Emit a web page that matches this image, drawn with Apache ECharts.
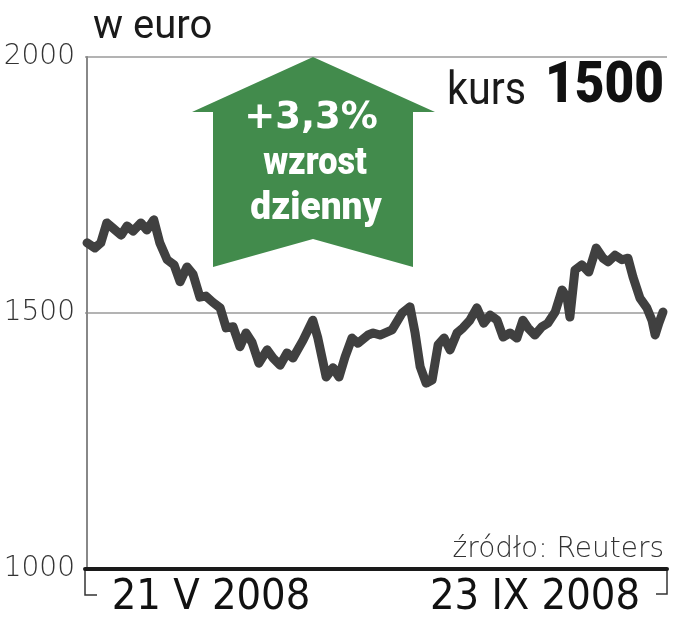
<!DOCTYPE html>
<html><head><meta charset="utf-8">
<script src="https://cdn.jsdelivr.net/npm/echarts@6/dist/echarts.min.js"></script>
<style>html,body{margin:0;padding:0;background:#fff}#c{width:677px;height:640px}</style>
</head><body><div id="c"></div>
<script>
// days since 21 V 2008
const days = [0,1.7,3.0,4.3,5.6,7.4,8.7,10.0,11.7,13.0,14.5,15.8,17.4,18.9,20.2,21.7,23.0,24.5,25.8,27.3,28.9,30.2,31.7,33.2,34.5,35.8,37.3,39.1,40.4,41.9,43.4,44.7,46.9,49.0,50.1,51.9,53.4,54.7,56.0,57.5,58.8,61.0,62.1,63.6,66.2,68.4,70.1,71.2,72.3,73.6,74.9,76.2,77.5,78.8,80.3,81.6,83.1,84.6,86.1,87.5,89.0,90.3,91.8,93.3,94.6,95.7,97.2,98.7,100.0,101.6,103.1,104.2,104.8,105.9,107.4,108.9,110.5,112.0,113.1,114.6,116.1,117.4,118.5,120.0,121.5,122.6,123.3,124.1,125.0];
// price in euro
const prices = [1637,1627,1637,1676,1666,1652,1670,1660,1676,1662,1682,1637,1604,1594,1561,1590,1576,1531,1533,1521,1510,1471,1473,1434,1461,1443,1402,1428,1412,1398,1422,1412,1447,1486,1451,1375,1393,1375,1414,1451,1441,1457,1461,1457,1467,1500,1512,1461,1395,1363,1369,1438,1451,1428,1461,1471,1486,1510,1480,1496,1486,1453,1461,1451,1486,1471,1457,1473,1480,1502,1545,1529,1492,1584,1594,1580,1627,1607,1600,1613,1604,1607,1570,1529,1510,1486,1457,1480,1502];
const yTicks = [1000,1500,2000];
const dateLabels = ['21 V 2008','23 IX 2008'];
const unitLabel = 'w euro';
const sourceLabel = 'źródło: Reuters';
const changeLabel = ['+3,3%','wzrost','dzienny'];
const lastLabel = ['kurs','1500'];

const chart = echarts.init(document.getElementById('c'));
const data = days.map((d,i)=>[d,prices[i]]);
const cond = '"DejaVu Sans Condensed","DejaVu Sans",sans-serif';
chart.setOption({
  animation:false,
  grid:{left:85,right:10,top:57,bottom:71,containLabel:false,outerBoundsMode:'none'},
  xAxis:{type:'value',min:-0.434,max:125.87,axisLine:{show:true,lineStyle:{color:'#1a1a1a',width:4}},axisTick:{show:false},axisLabel:{show:false},splitLine:{show:false}},
  yAxis:{type:'value',min:yTicks[0],max:yTicks[2],interval:500,
    axisLine:{show:true,lineStyle:{color:'#888',width:2}},axisTick:{show:false},
    axisLabel:{margin:10,color:'#333',fontSize:28,fontFamily:'"DejaVu Sans"',fontWeight:200,formatter:v=>String(v)},
    splitLine:{show:true,lineStyle:{color:'#9a9a9a',width:1.5}}},
  series:[{type:'line',data:data,showSymbol:false,smooth:false,clip:false,
    lineStyle:{color:'#404040',width:9,join:'round',cap:'round'},z:3}],
  graphic:[
    {type:'polygon',z:1,shape:{points:[[313,57],[435,112],[413,112],[413,267],[313,239],[213,267],[213,112],[192,112]]},style:{fill:'#428b4c'}},
    {type:'text',z:5,x:311,y:118,style:{text:changeLabel[0],x:0,y:0,align:'center',verticalAlign:'middle',fill:'#fff',font:'bold 37px "DejaVu Sans"'}},
    {type:'text',z:5,x:315,y:164,scaleX:0.88,style:{text:changeLabel[1],x:0,y:0,align:'center',verticalAlign:'middle',fill:'#fff',font:'900 39px Roboto'}},
    {type:'text',z:5,x:316,y:209,scaleX:0.95,style:{text:changeLabel[2],x:0,y:0,align:'center',verticalAlign:'middle',fill:'#fff',font:'900 39px Roboto'}},
    {type:'text',style:{text:unitLabel,x:93,y:28,align:'left',verticalAlign:'middle',fill:'#1a1a1a',font:'40px Roboto'}},
    {type:'text',x:447,y:92,scaleX:0.88,style:{text:lastLabel[0],x:0,y:0,align:'left',verticalAlign:'middle',fill:'#1a1a1a',font:'47px Roboto'}},
    {type:'text',x:664,y:88,scaleX:0.9,style:{text:lastLabel[1],x:0,y:0,align:'right',verticalAlign:'middle',fill:'#111',font:'900 57px Roboto'}},
    {type:'text',style:{text:sourceLabel,x:664,y:550,align:'right',verticalAlign:'middle',fill:'#333',font:'200 28px "DejaVu Sans"'}},
    {type:'text',style:{text:dateLabels[0],x:211,y:598,align:'center',verticalAlign:'middle',fill:'#111',font:'43px '+cond}},
    {type:'text',style:{text:dateLabels[1],x:535,y:598,align:'center',verticalAlign:'middle',fill:'#111',font:'43px '+cond}},
    {type:'polyline',shape:{points:[[85,569],[85,595],[97,595]]},style:{stroke:'#333',lineWidth:1.5,fill:null}},
    {type:'polyline',shape:{points:[[656,594],[667,594],[667,569]]},style:{stroke:'#333',lineWidth:1.5,fill:null}}
  ]
});
</script></body></html>
